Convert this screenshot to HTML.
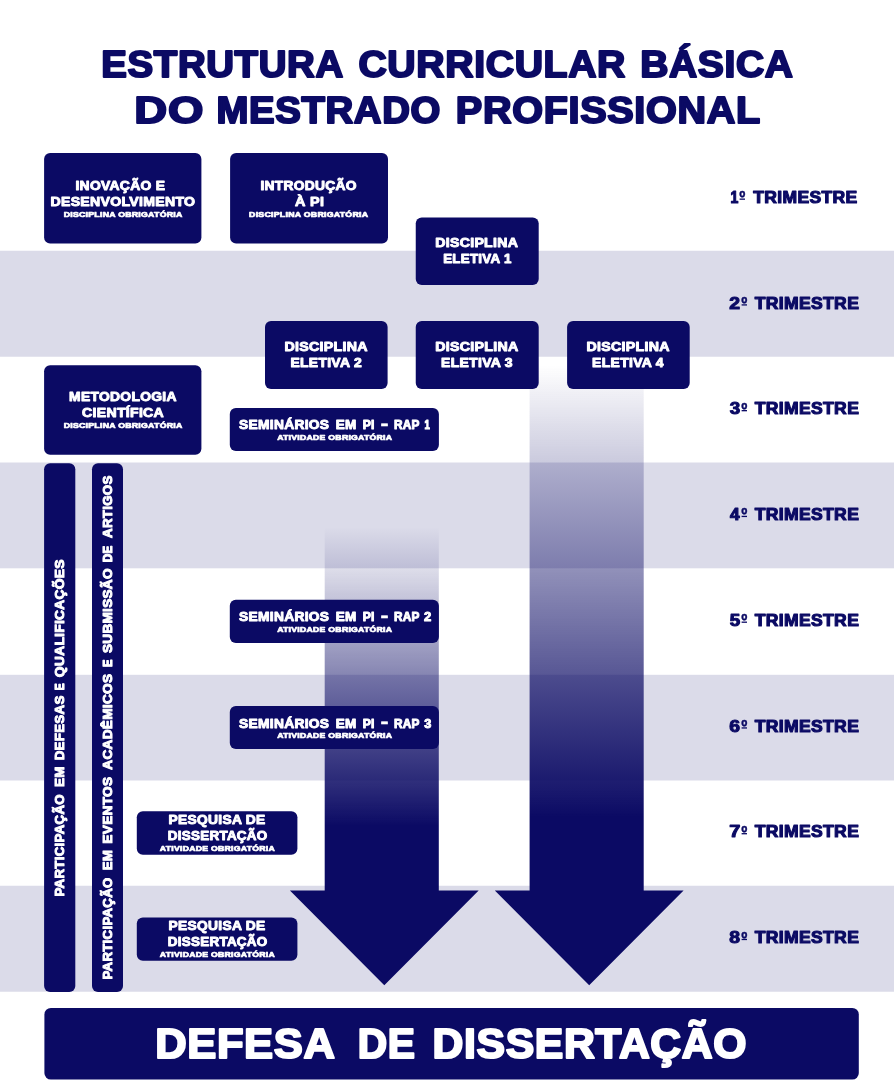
<!DOCTYPE html>
<html lang="pt-BR">
<head>
<meta charset="utf-8">
<title>Estrutura Curricular Básica do Mestrado Profissional</title>
<style>
html,body{margin:0;padding:0;background:#fff;}
body{width:894px;height:1080px;overflow:hidden;}
svg{display:block;will-change:transform;transform:translateZ(0);}
text{font-weight:700;white-space:pre;}
</style>
</head>
<body>
<svg width="894" height="1080" viewBox="0 0 894 1080">
<defs>

<linearGradient id="gL" gradientUnits="userSpaceOnUse" x1="0" y1="527" x2="0" y2="826">
<stop offset="0" stop-color="#0b0a64" stop-opacity="0"/><stop offset="1" stop-color="#0b0a64" stop-opacity="1"/></linearGradient>
<linearGradient id="gR" gradientUnits="userSpaceOnUse" x1="0" y1="365" x2="0" y2="817">
<stop offset="0" stop-color="#0b0a64" stop-opacity="0"/><stop offset="1" stop-color="#0b0a64" stop-opacity="1"/></linearGradient>

</defs>
<rect x="0" y="250.75" width="894" height="106.00" fill="#dbdbe9"/>
<rect x="0" y="462.50" width="894" height="105.80" fill="#dbdbe9"/>
<rect x="0" y="674.80" width="894" height="105.70" fill="#dbdbe9"/>
<rect x="0" y="885.75" width="894" height="106.00" fill="#dbdbe9"/>
<path d="M324.70,527 L438.80,527 L438.80,890.5 L478.70,890.5 L384.30,985.2 L289.90,890.5 L324.70,890.5 Z" fill="url(#gL)"/>
<path d="M529.60,357 L643.70,357 L643.70,890.5 L683.60,890.5 L589.20,985.2 L494.80,890.5 L529.60,890.5 Z" fill="url(#gR)"/>
<rect x="44.10" y="153.00" width="157.30" height="90.40" rx="6" ry="6" fill="#0b0a64" />
<rect x="230.10" y="153.00" width="157.90" height="90.40" rx="6" ry="6" fill="#0b0a64" />
<rect x="415.75" y="217.50" width="122.95" height="67.50" rx="6" ry="6" fill="#0b0a64" />
<rect x="265.00" y="321.10" width="122.60" height="68.00" rx="6" ry="6" fill="#0b0a64" />
<rect x="415.75" y="321.10" width="122.95" height="68.00" rx="6" ry="6" fill="#0b0a64" />
<rect x="567.10" y="321.10" width="122.60" height="68.00" rx="6" ry="6" fill="#0b0a64" />
<rect x="44.10" y="365.20" width="157.30" height="89.50" rx="6" ry="6" fill="#0b0a64" />
<rect x="229.80" y="407.90" width="209.10" height="43.10" rx="6" ry="6" fill="#0b0a64" />
<rect x="229.80" y="599.80" width="209.10" height="43.10" rx="6" ry="6" fill="#0b0a64" />
<rect x="229.80" y="706.00" width="209.10" height="43.10" rx="6" ry="6" fill="#0b0a64" />
<rect x="136.80" y="811.30" width="160.60" height="43.40" rx="6" ry="6" fill="#0b0a64" />
<rect x="136.80" y="917.40" width="160.60" height="43.40" rx="6" ry="6" fill="#0b0a64" />
<rect x="44.10" y="463.30" width="31.20" height="528.60" rx="6" ry="6" fill="#0b0a64" />
<rect x="92.00" y="463.30" width="31.00" height="528.60" rx="6" ry="6" fill="#0b0a64" />
<rect x="44.40" y="1007.90" width="814.40" height="71.70" rx="6.5" ry="6.5" fill="#0b0a64" />
<rect x="739.60" y="198.50" width="5.40" height="1.3" fill="#0b0a64"/>
<rect x="741.60" y="304.26" width="5.40" height="1.3" fill="#0b0a64"/>
<rect x="741.60" y="410.02" width="5.40" height="1.3" fill="#0b0a64"/>
<rect x="741.60" y="515.78" width="5.40" height="1.3" fill="#0b0a64"/>
<rect x="741.60" y="621.54" width="5.40" height="1.3" fill="#0b0a64"/>
<rect x="741.60" y="727.30" width="5.40" height="1.3" fill="#0b0a64"/>
<rect x="741.60" y="833.06" width="5.40" height="1.3" fill="#0b0a64"/>
<rect x="741.60" y="938.82" width="5.40" height="1.3" fill="#0b0a64"/>
<text transform="translate(101.35,76.85) scale(1.0484,1)" font-size="36.63" font-family="'Liberation Sans', sans-serif" fill="#0b0a64" stroke="#0b0a64" stroke-width="2.10" stroke-linejoin="round" vector-effect="non-scaling-stroke" letter-spacing="0.60">ESTRUTURA</text>
<text transform="translate(358.43,76.85) scale(1.0702,1)" font-size="36.63" font-family="'Liberation Sans', sans-serif" fill="#0b0a64" stroke="#0b0a64" stroke-width="2.10" stroke-linejoin="round" vector-effect="non-scaling-stroke" letter-spacing="0.60">CURRICULAR</text>
<text transform="translate(640.21,76.85) scale(1.0653,1)" font-size="36.63" font-family="'Liberation Sans', sans-serif" fill="#0b0a64" stroke="#0b0a64" stroke-width="2.10" stroke-linejoin="round" vector-effect="non-scaling-stroke" letter-spacing="0.60">BÁSICA</text>
<text transform="translate(134.30,123.15) scale(1.2444,1)" font-size="36.63" font-family="'Liberation Sans', sans-serif" fill="#0b0a64" stroke="#0b0a64" stroke-width="2.10" stroke-linejoin="round" vector-effect="non-scaling-stroke" letter-spacing="0.60">DO</text>
<text transform="translate(216.55,123.15) scale(1.0466,1)" font-size="36.63" font-family="'Liberation Sans', sans-serif" fill="#0b0a64" stroke="#0b0a64" stroke-width="2.10" stroke-linejoin="round" vector-effect="non-scaling-stroke" letter-spacing="0.60">MESTRADO</text>
<text transform="translate(455.87,123.15) scale(1.0819,1)" font-size="36.63" font-family="'Liberation Sans', sans-serif" fill="#0b0a64" stroke="#0b0a64" stroke-width="2.10" stroke-linejoin="round" vector-effect="non-scaling-stroke" letter-spacing="0.60">PROFISSIONAL</text>
<text transform="translate(730.38,202.84) scale(0.8798,1)" font-size="15.97" font-family="'Liberation Sans', sans-serif" fill="#0b0a64" stroke="#0b0a64" stroke-width="1.12" stroke-linejoin="round" vector-effect="non-scaling-stroke" letter-spacing="0.31">1</text>
<text transform="translate(753.16,202.84) scale(1.0994,1)" font-size="15.97" font-family="'Liberation Sans', sans-serif" fill="#0b0a64" stroke="#0b0a64" stroke-width="1.12" stroke-linejoin="round" vector-effect="non-scaling-stroke" letter-spacing="0.31">TRIMESTRE</text>
<text transform="translate(739.34,204.20) scale(0.8763,1)" font-size="18.92" font-family="'Liberation Sans', sans-serif" fill="#0b0a64" stroke="#0b0a64" stroke-width="0.40" stroke-linejoin="round" vector-effect="non-scaling-stroke">º</text>
<text transform="translate(729.35,308.60) scale(1.2132,1)" font-size="15.97" font-family="'Liberation Sans', sans-serif" fill="#0b0a64" stroke="#0b0a64" stroke-width="1.12" stroke-linejoin="round" vector-effect="non-scaling-stroke" letter-spacing="0.31">2</text>
<text transform="translate(754.76,308.60) scale(1.0994,1)" font-size="15.97" font-family="'Liberation Sans', sans-serif" fill="#0b0a64" stroke="#0b0a64" stroke-width="1.12" stroke-linejoin="round" vector-effect="non-scaling-stroke" letter-spacing="0.31">TRIMESTRE</text>
<text transform="translate(741.34,309.96) scale(0.8763,1)" font-size="18.92" font-family="'Liberation Sans', sans-serif" fill="#0b0a64" stroke="#0b0a64" stroke-width="0.40" stroke-linejoin="round" vector-effect="non-scaling-stroke">º</text>
<text transform="translate(729.66,414.36) scale(1.1764,1)" font-size="15.97" font-family="'Liberation Sans', sans-serif" fill="#0b0a64" stroke="#0b0a64" stroke-width="1.12" stroke-linejoin="round" vector-effect="non-scaling-stroke" letter-spacing="0.31">3</text>
<text transform="translate(754.76,414.36) scale(1.0994,1)" font-size="15.97" font-family="'Liberation Sans', sans-serif" fill="#0b0a64" stroke="#0b0a64" stroke-width="1.12" stroke-linejoin="round" vector-effect="non-scaling-stroke" letter-spacing="0.31">TRIMESTRE</text>
<text transform="translate(741.34,415.72) scale(0.8763,1)" font-size="18.92" font-family="'Liberation Sans', sans-serif" fill="#0b0a64" stroke="#0b0a64" stroke-width="0.40" stroke-linejoin="round" vector-effect="non-scaling-stroke">º</text>
<text transform="translate(729.96,520.12) scale(1.0784,1)" font-size="15.97" font-family="'Liberation Sans', sans-serif" fill="#0b0a64" stroke="#0b0a64" stroke-width="1.12" stroke-linejoin="round" vector-effect="non-scaling-stroke" letter-spacing="0.31">4</text>
<text transform="translate(754.76,520.12) scale(1.0994,1)" font-size="15.97" font-family="'Liberation Sans', sans-serif" fill="#0b0a64" stroke="#0b0a64" stroke-width="1.12" stroke-linejoin="round" vector-effect="non-scaling-stroke" letter-spacing="0.31">TRIMESTRE</text>
<text transform="translate(741.34,521.48) scale(0.8763,1)" font-size="18.92" font-family="'Liberation Sans', sans-serif" fill="#0b0a64" stroke="#0b0a64" stroke-width="0.40" stroke-linejoin="round" vector-effect="non-scaling-stroke">º</text>
<text transform="translate(729.66,625.88) scale(1.1764,1)" font-size="15.97" font-family="'Liberation Sans', sans-serif" fill="#0b0a64" stroke="#0b0a64" stroke-width="1.12" stroke-linejoin="round" vector-effect="non-scaling-stroke" letter-spacing="0.31">5</text>
<text transform="translate(754.76,625.88) scale(1.0994,1)" font-size="15.97" font-family="'Liberation Sans', sans-serif" fill="#0b0a64" stroke="#0b0a64" stroke-width="1.12" stroke-linejoin="round" vector-effect="non-scaling-stroke" letter-spacing="0.31">TRIMESTRE</text>
<text transform="translate(741.34,627.24) scale(0.8763,1)" font-size="18.92" font-family="'Liberation Sans', sans-serif" fill="#0b0a64" stroke="#0b0a64" stroke-width="0.40" stroke-linejoin="round" vector-effect="non-scaling-stroke">º</text>
<text transform="translate(729.35,731.64) scale(1.2132,1)" font-size="15.97" font-family="'Liberation Sans', sans-serif" fill="#0b0a64" stroke="#0b0a64" stroke-width="1.12" stroke-linejoin="round" vector-effect="non-scaling-stroke" letter-spacing="0.31">6</text>
<text transform="translate(754.76,731.64) scale(1.0994,1)" font-size="15.97" font-family="'Liberation Sans', sans-serif" fill="#0b0a64" stroke="#0b0a64" stroke-width="1.12" stroke-linejoin="round" vector-effect="non-scaling-stroke" letter-spacing="0.31">TRIMESTRE</text>
<text transform="translate(741.34,733.00) scale(0.8763,1)" font-size="18.92" font-family="'Liberation Sans', sans-serif" fill="#0b0a64" stroke="#0b0a64" stroke-width="0.40" stroke-linejoin="round" vector-effect="non-scaling-stroke">º</text>
<text transform="translate(729.33,837.40) scale(1.2523,1)" font-size="15.97" font-family="'Liberation Sans', sans-serif" fill="#0b0a64" stroke="#0b0a64" stroke-width="1.12" stroke-linejoin="round" vector-effect="non-scaling-stroke" letter-spacing="0.31">7</text>
<text transform="translate(754.76,837.40) scale(1.0994,1)" font-size="15.97" font-family="'Liberation Sans', sans-serif" fill="#0b0a64" stroke="#0b0a64" stroke-width="1.12" stroke-linejoin="round" vector-effect="non-scaling-stroke" letter-spacing="0.31">TRIMESTRE</text>
<text transform="translate(741.34,838.76) scale(0.8763,1)" font-size="18.92" font-family="'Liberation Sans', sans-serif" fill="#0b0a64" stroke="#0b0a64" stroke-width="0.40" stroke-linejoin="round" vector-effect="non-scaling-stroke">º</text>
<text transform="translate(729.35,943.16) scale(1.2132,1)" font-size="15.97" font-family="'Liberation Sans', sans-serif" fill="#0b0a64" stroke="#0b0a64" stroke-width="1.12" stroke-linejoin="round" vector-effect="non-scaling-stroke" letter-spacing="0.31">8</text>
<text transform="translate(754.76,943.16) scale(1.0994,1)" font-size="15.97" font-family="'Liberation Sans', sans-serif" fill="#0b0a64" stroke="#0b0a64" stroke-width="1.12" stroke-linejoin="round" vector-effect="non-scaling-stroke" letter-spacing="0.31">TRIMESTRE</text>
<text transform="translate(741.34,944.52) scale(0.8763,1)" font-size="18.92" font-family="'Liberation Sans', sans-serif" fill="#0b0a64" stroke="#0b0a64" stroke-width="0.40" stroke-linejoin="round" vector-effect="non-scaling-stroke">º</text>
<text transform="translate(75.41,189.72) scale(1.1440,1)" font-size="12.12" font-family="'Liberation Sans', sans-serif" fill="#fff" stroke="#fff" stroke-width="0.96" stroke-linejoin="round" vector-effect="non-scaling-stroke" letter-spacing="0.27">INOVAÇÃO E</text>
<text transform="translate(50.51,206.11) scale(1.1368,1)" font-size="12.39" font-family="'Liberation Sans', sans-serif" fill="#fff" stroke="#fff" stroke-width="0.97" stroke-linejoin="round" vector-effect="non-scaling-stroke" letter-spacing="0.27">DESENVOLVIMENTO</text>
<text transform="translate(63.63,216.62) scale(1.2204,1)" font-size="7.18" font-family="'Liberation Sans', sans-serif" fill="#fff" stroke="#fff" stroke-width="0.76" stroke-linejoin="round" vector-effect="non-scaling-stroke" letter-spacing="0.21">DISCIPLINA OBRIGATÓRIA</text>
<text transform="translate(260.42,189.72) scale(1.1373,1)" font-size="12.12" font-family="'Liberation Sans', sans-serif" fill="#fff" stroke="#fff" stroke-width="0.96" stroke-linejoin="round" vector-effect="non-scaling-stroke" letter-spacing="0.27">INTRODUÇÃO</text>
<text transform="translate(295.06,206.11) scale(1.1600,1)" font-size="12.39" font-family="'Liberation Sans', sans-serif" fill="#fff" stroke="#fff" stroke-width="0.97" stroke-linejoin="round" vector-effect="non-scaling-stroke" letter-spacing="0.27">À PI</text>
<text transform="translate(249.03,216.62) scale(1.2245,1)" font-size="7.18" font-family="'Liberation Sans', sans-serif" fill="#fff" stroke="#fff" stroke-width="0.76" stroke-linejoin="round" vector-effect="non-scaling-stroke" letter-spacing="0.21">DISCIPLINA OBRIGATÓRIA</text>
<text transform="translate(435.30,247.21) scale(1.1377,1)" font-size="12.39" font-family="'Liberation Sans', sans-serif" fill="#fff" stroke="#fff" stroke-width="0.97" stroke-linejoin="round" vector-effect="non-scaling-stroke" letter-spacing="0.27">DISCIPLINA</text>
<text transform="translate(443.15,262.71) scale(1.0747,1)" font-size="12.39" font-family="'Liberation Sans', sans-serif" fill="#fff" stroke="#fff" stroke-width="0.97" stroke-linejoin="round" vector-effect="non-scaling-stroke" letter-spacing="0.27">ELETIVA 1</text>
<text transform="translate(284.40,351.41) scale(1.1447,1)" font-size="12.39" font-family="'Liberation Sans', sans-serif" fill="#fff" stroke="#fff" stroke-width="0.97" stroke-linejoin="round" vector-effect="non-scaling-stroke" letter-spacing="0.27">DISCIPLINA</text>
<text transform="translate(290.42,366.91) scale(1.1241,1)" font-size="12.39" font-family="'Liberation Sans', sans-serif" fill="#fff" stroke="#fff" stroke-width="0.97" stroke-linejoin="round" vector-effect="non-scaling-stroke" letter-spacing="0.27">ELETIVA 2</text>
<text transform="translate(435.20,351.41) scale(1.1433,1)" font-size="12.39" font-family="'Liberation Sans', sans-serif" fill="#fff" stroke="#fff" stroke-width="0.97" stroke-linejoin="round" vector-effect="non-scaling-stroke" letter-spacing="0.27">DISCIPLINA</text>
<text transform="translate(441.01,366.91) scale(1.1288,1)" font-size="12.39" font-family="'Liberation Sans', sans-serif" fill="#fff" stroke="#fff" stroke-width="0.97" stroke-linejoin="round" vector-effect="non-scaling-stroke" letter-spacing="0.27">ELETIVA 3</text>
<text transform="translate(586.50,351.41) scale(1.1447,1)" font-size="12.39" font-family="'Liberation Sans', sans-serif" fill="#fff" stroke="#fff" stroke-width="0.97" stroke-linejoin="round" vector-effect="non-scaling-stroke" letter-spacing="0.27">DISCIPLINA</text>
<text transform="translate(592.11,366.91) scale(1.1267,1)" font-size="12.39" font-family="'Liberation Sans', sans-serif" fill="#fff" stroke="#fff" stroke-width="0.97" stroke-linejoin="round" vector-effect="non-scaling-stroke" letter-spacing="0.27">ELETIVA 4</text>
<text transform="translate(69.12,400.82) scale(1.1416,1)" font-size="12.12" font-family="'Liberation Sans', sans-serif" fill="#fff" stroke="#fff" stroke-width="0.96" stroke-linejoin="round" vector-effect="non-scaling-stroke" letter-spacing="0.27">METODOLOGIA</text>
<text transform="translate(82.05,416.81) scale(1.1356,1)" font-size="12.39" font-family="'Liberation Sans', sans-serif" fill="#fff" stroke="#fff" stroke-width="0.97" stroke-linejoin="round" vector-effect="non-scaling-stroke" letter-spacing="0.27">CIENTÍFICA</text>
<text transform="translate(63.63,427.52) scale(1.2204,1)" font-size="7.18" font-family="'Liberation Sans', sans-serif" fill="#fff" stroke="#fff" stroke-width="0.76" stroke-linejoin="round" vector-effect="non-scaling-stroke" letter-spacing="0.21">DISCIPLINA OBRIGATÓRIA</text>
<text transform="translate(238.97,429.41) scale(1.1133,1)" font-size="12.39" font-family="'Liberation Sans', sans-serif" fill="#fff" stroke="#fff" stroke-width="0.97" stroke-linejoin="round" vector-effect="non-scaling-stroke" letter-spacing="0.27">SEMINÁRIOS</text>
<text transform="translate(335.74,429.41) scale(1.0907,1)" font-size="12.39" font-family="'Liberation Sans', sans-serif" fill="#fff" stroke="#fff" stroke-width="0.97" stroke-linejoin="round" vector-effect="non-scaling-stroke" letter-spacing="0.27">EM</text>
<text transform="translate(362.73,429.41) scale(0.9765,1)" font-size="12.39" font-family="'Liberation Sans', sans-serif" fill="#fff" stroke="#fff" stroke-width="0.97" stroke-linejoin="round" vector-effect="non-scaling-stroke" letter-spacing="0.27">PI</text>
<text transform="translate(393.95,429.41) scale(0.9539,1)" font-size="12.39" font-family="'Liberation Sans', sans-serif" fill="#fff" stroke="#fff" stroke-width="0.97" stroke-linejoin="round" vector-effect="non-scaling-stroke" letter-spacing="0.27">RAP</text>
<text transform="translate(424.48,429.41) scale(0.7793,1)" font-size="12.39" font-family="'Liberation Sans', sans-serif" fill="#fff" stroke="#fff" stroke-width="0.97" stroke-linejoin="round" vector-effect="non-scaling-stroke" letter-spacing="0.27">1</text>
<text transform="translate(380.60,430.38) scale(1.3553,1)" font-size="17.78" font-family="'Liberation Sans', sans-serif" fill="#fff" stroke="#fff" stroke-width="0.50" stroke-linejoin="round" vector-effect="non-scaling-stroke">-</text>
<text transform="translate(277.15,439.77) scale(1.2133,1)" font-size="7.18" font-family="'Liberation Sans', sans-serif" fill="#fff" stroke="#fff" stroke-width="0.76" stroke-linejoin="round" vector-effect="non-scaling-stroke" letter-spacing="0.21">ATIVIDADE OBRIGATÓRIA</text>
<text transform="translate(238.97,621.31) scale(1.1133,1)" font-size="12.39" font-family="'Liberation Sans', sans-serif" fill="#fff" stroke="#fff" stroke-width="0.97" stroke-linejoin="round" vector-effect="non-scaling-stroke" letter-spacing="0.27">SEMINÁRIOS</text>
<text transform="translate(335.74,621.31) scale(1.0907,1)" font-size="12.39" font-family="'Liberation Sans', sans-serif" fill="#fff" stroke="#fff" stroke-width="0.97" stroke-linejoin="round" vector-effect="non-scaling-stroke" letter-spacing="0.27">EM</text>
<text transform="translate(362.73,621.31) scale(0.9765,1)" font-size="12.39" font-family="'Liberation Sans', sans-serif" fill="#fff" stroke="#fff" stroke-width="0.97" stroke-linejoin="round" vector-effect="non-scaling-stroke" letter-spacing="0.27">PI</text>
<text transform="translate(393.95,621.31) scale(0.9539,1)" font-size="12.39" font-family="'Liberation Sans', sans-serif" fill="#fff" stroke="#fff" stroke-width="0.97" stroke-linejoin="round" vector-effect="non-scaling-stroke" letter-spacing="0.27">RAP</text>
<text transform="translate(424.08,621.31) scale(1.0533,1)" font-size="12.39" font-family="'Liberation Sans', sans-serif" fill="#fff" stroke="#fff" stroke-width="0.97" stroke-linejoin="round" vector-effect="non-scaling-stroke" letter-spacing="0.27">2</text>
<text transform="translate(380.60,622.28) scale(1.3553,1)" font-size="17.78" font-family="'Liberation Sans', sans-serif" fill="#fff" stroke="#fff" stroke-width="0.50" stroke-linejoin="round" vector-effect="non-scaling-stroke">-</text>
<text transform="translate(277.15,631.67) scale(1.2133,1)" font-size="7.18" font-family="'Liberation Sans', sans-serif" fill="#fff" stroke="#fff" stroke-width="0.76" stroke-linejoin="round" vector-effect="non-scaling-stroke" letter-spacing="0.21">ATIVIDADE OBRIGATÓRIA</text>
<text transform="translate(238.97,727.51) scale(1.1133,1)" font-size="12.39" font-family="'Liberation Sans', sans-serif" fill="#fff" stroke="#fff" stroke-width="0.97" stroke-linejoin="round" vector-effect="non-scaling-stroke" letter-spacing="0.27">SEMINÁRIOS</text>
<text transform="translate(335.74,727.51) scale(1.0907,1)" font-size="12.39" font-family="'Liberation Sans', sans-serif" fill="#fff" stroke="#fff" stroke-width="0.97" stroke-linejoin="round" vector-effect="non-scaling-stroke" letter-spacing="0.27">EM</text>
<text transform="translate(362.73,727.51) scale(0.9765,1)" font-size="12.39" font-family="'Liberation Sans', sans-serif" fill="#fff" stroke="#fff" stroke-width="0.97" stroke-linejoin="round" vector-effect="non-scaling-stroke" letter-spacing="0.27">PI</text>
<text transform="translate(393.95,727.51) scale(0.9539,1)" font-size="12.39" font-family="'Liberation Sans', sans-serif" fill="#fff" stroke="#fff" stroke-width="0.97" stroke-linejoin="round" vector-effect="non-scaling-stroke" letter-spacing="0.27">RAP</text>
<text transform="translate(424.29,727.51) scale(1.0214,1)" font-size="12.39" font-family="'Liberation Sans', sans-serif" fill="#fff" stroke="#fff" stroke-width="0.97" stroke-linejoin="round" vector-effect="non-scaling-stroke" letter-spacing="0.27">3</text>
<text transform="translate(380.60,728.48) scale(1.3553,1)" font-size="17.78" font-family="'Liberation Sans', sans-serif" fill="#fff" stroke="#fff" stroke-width="0.50" stroke-linejoin="round" vector-effect="non-scaling-stroke">-</text>
<text transform="translate(277.15,737.87) scale(1.2133,1)" font-size="7.18" font-family="'Liberation Sans', sans-serif" fill="#fff" stroke="#fff" stroke-width="0.76" stroke-linejoin="round" vector-effect="non-scaling-stroke" letter-spacing="0.21">ATIVIDADE OBRIGATÓRIA</text>
<text transform="translate(168.62,824.32) scale(1.1359,1)" font-size="12.12" font-family="'Liberation Sans', sans-serif" fill="#fff" stroke="#fff" stroke-width="0.96" stroke-linejoin="round" vector-effect="non-scaling-stroke" letter-spacing="0.27">PESQUISA DE</text>
<text transform="translate(167.74,840.12) scale(1.1071,1)" font-size="12.12" font-family="'Liberation Sans', sans-serif" fill="#fff" stroke="#fff" stroke-width="0.96" stroke-linejoin="round" vector-effect="non-scaling-stroke" letter-spacing="0.27">DISSERTAÇÃO</text>
<text transform="translate(159.85,850.52) scale(1.2111,1)" font-size="7.18" font-family="'Liberation Sans', sans-serif" fill="#fff" stroke="#fff" stroke-width="0.76" stroke-linejoin="round" vector-effect="non-scaling-stroke" letter-spacing="0.21">ATIVIDADE OBRIGATÓRIA</text>
<text transform="translate(168.62,930.42) scale(1.1359,1)" font-size="12.12" font-family="'Liberation Sans', sans-serif" fill="#fff" stroke="#fff" stroke-width="0.96" stroke-linejoin="round" vector-effect="non-scaling-stroke" letter-spacing="0.27">PESQUISA DE</text>
<text transform="translate(167.74,946.22) scale(1.1071,1)" font-size="12.12" font-family="'Liberation Sans', sans-serif" fill="#fff" stroke="#fff" stroke-width="0.96" stroke-linejoin="round" vector-effect="non-scaling-stroke" letter-spacing="0.27">DISSERTAÇÃO</text>
<text transform="translate(159.85,956.62) scale(1.2111,1)" font-size="7.18" font-family="'Liberation Sans', sans-serif" fill="#fff" stroke="#fff" stroke-width="0.76" stroke-linejoin="round" vector-effect="non-scaling-stroke" letter-spacing="0.21">ATIVIDADE OBRIGATÓRIA</text>
<text transform="translate(64.10,896.53) rotate(-90) scale(1.0253,1)" font-size="12.94" font-family="'Liberation Sans', sans-serif" fill="#fff" stroke="#fff" stroke-width="0.99" stroke-linejoin="round" vector-effect="non-scaling-stroke" letter-spacing="0.28">PARTICIPAÇÃO</text>
<text transform="translate(64.10,787.05) rotate(-90) scale(1.0433,1)" font-size="12.94" font-family="'Liberation Sans', sans-serif" fill="#fff" stroke="#fff" stroke-width="0.99" stroke-linejoin="round" vector-effect="non-scaling-stroke" letter-spacing="0.28">EM</text>
<text transform="translate(64.10,760.34) rotate(-90) scale(1.0298,1)" font-size="12.94" font-family="'Liberation Sans', sans-serif" fill="#fff" stroke="#fff" stroke-width="0.99" stroke-linejoin="round" vector-effect="non-scaling-stroke" letter-spacing="0.28">DEFESAS</text>
<text transform="translate(64.10,690.15) rotate(-90) scale(0.8025,1)" font-size="12.94" font-family="'Liberation Sans', sans-serif" fill="#fff" stroke="#fff" stroke-width="0.99" stroke-linejoin="round" vector-effect="non-scaling-stroke" letter-spacing="0.28">E</text>
<text transform="translate(64.10,677.13) rotate(-90) scale(1.0660,1)" font-size="12.94" font-family="'Liberation Sans', sans-serif" fill="#fff" stroke="#fff" stroke-width="0.99" stroke-linejoin="round" vector-effect="non-scaling-stroke" letter-spacing="0.28">QUALIFICAÇÕES</text>
<text transform="translate(111.80,979.53) rotate(-90) scale(1.0223,1)" font-size="12.94" font-family="'Liberation Sans', sans-serif" fill="#fff" stroke="#fff" stroke-width="0.99" stroke-linejoin="round" vector-effect="non-scaling-stroke" letter-spacing="0.28">PARTICIPAÇÃO</text>
<text transform="translate(111.80,870.33) rotate(-90) scale(1.0268,1)" font-size="12.94" font-family="'Liberation Sans', sans-serif" fill="#fff" stroke="#fff" stroke-width="0.99" stroke-linejoin="round" vector-effect="non-scaling-stroke" letter-spacing="0.28">EM</text>
<text transform="translate(111.80,843.66) rotate(-90) scale(1.0555,1)" font-size="12.94" font-family="'Liberation Sans', sans-serif" fill="#fff" stroke="#fff" stroke-width="0.99" stroke-linejoin="round" vector-effect="non-scaling-stroke" letter-spacing="0.28">EVENTOS</text>
<text transform="translate(111.80,769.72) rotate(-90) scale(1.0539,1)" font-size="12.94" font-family="'Liberation Sans', sans-serif" fill="#fff" stroke="#fff" stroke-width="0.99" stroke-linejoin="round" vector-effect="non-scaling-stroke" letter-spacing="0.28">ACADÊMICOS</text>
<text transform="translate(111.80,666.91) rotate(-90) scale(0.8693,1)" font-size="12.94" font-family="'Liberation Sans', sans-serif" fill="#fff" stroke="#fff" stroke-width="0.99" stroke-linejoin="round" vector-effect="non-scaling-stroke" letter-spacing="0.28">E</text>
<text transform="translate(111.80,653.01) rotate(-90) scale(1.0492,1)" font-size="12.94" font-family="'Liberation Sans', sans-serif" fill="#fff" stroke="#fff" stroke-width="0.99" stroke-linejoin="round" vector-effect="non-scaling-stroke" letter-spacing="0.28">SUBMISSÃO</text>
<text transform="translate(111.80,562.24) rotate(-90) scale(0.9062,1)" font-size="12.94" font-family="'Liberation Sans', sans-serif" fill="#fff" stroke="#fff" stroke-width="0.99" stroke-linejoin="round" vector-effect="non-scaling-stroke" letter-spacing="0.28">DE</text>
<text transform="translate(111.80,538.01) rotate(-90) scale(1.0283,1)" font-size="12.94" font-family="'Liberation Sans', sans-serif" fill="#fff" stroke="#fff" stroke-width="0.99" stroke-linejoin="round" vector-effect="non-scaling-stroke" letter-spacing="0.28">ARTIGOS</text>
<text transform="translate(155.16,1057.72) scale(1.0319,1)" font-size="42.20" font-family="'Liberation Sans', sans-serif" fill="#fff" stroke="#fff" stroke-width="2.17" stroke-linejoin="round" vector-effect="non-scaling-stroke" letter-spacing="0.61">DEFESA</text>
<text transform="translate(357.84,1057.72) scale(0.9649,1)" font-size="42.20" font-family="'Liberation Sans', sans-serif" fill="#fff" stroke="#fff" stroke-width="2.17" stroke-linejoin="round" vector-effect="non-scaling-stroke" letter-spacing="0.61">DE</text>
<text transform="translate(432.61,1057.72) scale(1.0125,1)" font-size="42.20" font-family="'Liberation Sans', sans-serif" fill="#fff" stroke="#fff" stroke-width="2.17" stroke-linejoin="round" vector-effect="non-scaling-stroke" letter-spacing="0.61">DISSERTAÇÃO</text>
</svg>
</body>
</html>
